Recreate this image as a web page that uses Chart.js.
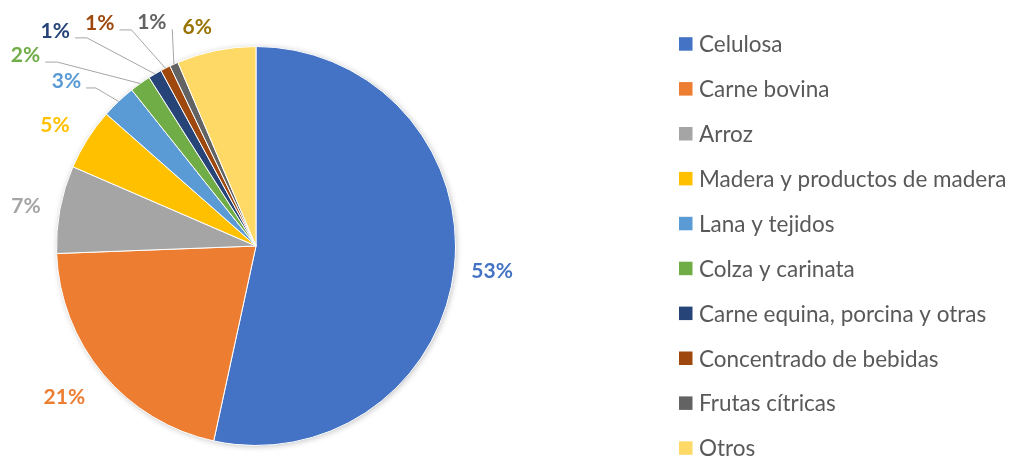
<!DOCTYPE html>
<html>
<head>
<meta charset="utf-8">
<script src="https://cdn.jsdelivr.net/npm/chart.js@4/dist/chart.umd.min.js"></script>
<style>
  html, body { margin: 0; padding: 0; background: #fff; }
  #wrap { width: 1013px; height: 457px; position: relative; }
</style>
</head>
<body>
<div id="wrap"><canvas id="c" width="1013" height="457"></canvas></div>
<script>
// ---- Data ----
const categories = [
  'Celulosa', 'Carne bovina', 'Arroz', 'Madera y productos de madera',
  'Lana y tejidos', 'Colza y carinata', 'Carne equina, porcina y otras',
  'Concentrado de bebidas', 'Frutas cítricas', 'Otros'
];
const values = [53.4, 21.0, 7.1, 5.0, 2.8, 1.7, 1.1, 0.8, 0.7, 6.4];

// ---- Styles ----
const sliceColors = ['#4472C4', '#ED7D31', '#A5A5A5', '#FFC000', '#5B9BD5',
                     '#70AD47', '#264478', '#9E480E', '#636363', '#FFD966'];
const labelColors = ['#4472C4', '#ED7D31', '#A5A5A5', '#FFC000', '#5B9BD5',
                     '#70AD47', '#264478', '#9E480E', '#636363', '#997300'];
// label placement: angle shift (deg) from slice mid-angle, distance as ratio of radius
const labelAngleShift = [0, 1.6, -0.8, -1.4, -5.4, -14.9, -12.6, -8, -0.7, -3.5];
const labelDistRatio  = [1.19, 1.225, 1.17, 1.175, 1.26, 1.5, 1.475, 1.365, 1.235, 1.135];
const leaderLine      = [false, false, false, false, true, true, true, true, true, false];

const LABEL_FONT = 'bold 21px Lato, "Open Sans", sans-serif';
const LEGEND_FONT = '22.5px Lato, "Open Sans", sans-serif';

const shadowPlugin = {
  id: 'pieShadow',
  beforeDatasetsDraw(chart) {
    const arc = chart.getDatasetMeta(0).data[0];
    if (!arc) return;
    const ctx = chart.ctx;
    ctx.save();
    ctx.shadowColor = 'rgba(0,0,0,0.28)';
    ctx.shadowBlur = 6;
    ctx.shadowOffsetX = 1;
    ctx.shadowOffsetY = 1;
    ctx.beginPath();
    ctx.arc(arc.x, arc.y, arc.outerRadius - 0.5, 0, Math.PI * 2);
    ctx.fillStyle = '#fff';
    ctx.fill();
    ctx.restore();
  }
};

const labelPlugin = {
  id: 'pieLabels',
  afterDatasetsDraw(chart) {
    const ctx = chart.ctx;
    const meta = chart.getDatasetMeta(0);
    const total = values.reduce((a, b) => a + b, 0);
    ctx.save();
    ctx.font = LABEL_FONT;
    ctx.textAlign = 'center';
    ctx.textBaseline = 'middle';
    meta.data.forEach((arc, i) => {
      const mid = (arc.startAngle + arc.endAngle) / 2;
      const a = mid + labelAngleShift[i] * Math.PI / 180;
      const d = arc.outerRadius * labelDistRatio[i];
      const lx = arc.x + Math.cos(a) * d;
      const ly = arc.y + Math.sin(a) * d;
      const txt = Math.round(values[i] / total * 100) + '%';
      if (leaderLine[i]) {
        const w = ctx.measureText(txt).width;
        const sx = lx + w / 2 + 5, sy = ly + 7;
        const ex = arc.x + Math.cos(mid) * arc.outerRadius;
        const ey = arc.y + Math.sin(mid) * arc.outerRadius;
        const h = Math.min(12, Math.max(0, (ex - sx) * 0.3));
        ctx.beginPath();
        ctx.moveTo(sx, sy);
        ctx.lineTo(sx + h, sy);
        ctx.lineTo(ex, ey);
        ctx.strokeStyle = '#A6A6A6';
        ctx.lineWidth = 1;
        ctx.stroke();
      }
      ctx.fillStyle = labelColors[i];
      ctx.fillText(txt, lx, ly);
    });
    ctx.restore();
  }
};

const legendPlugin = {
  id: 'sideLegend',
  afterDraw(chart) {
    const ctx = chart.ctx;
    const arc = chart.getDatasetMeta(0).data[0];
    const n = categories.length;
    const step = 44.9;
    const top = arc.y - step * (n - 1) / 2;
    const boxX = 679, box = 13.5, textX = 699;
    ctx.save();
    ctx.font = LEGEND_FONT;
    ctx.textBaseline = 'middle';
    ctx.textAlign = 'left';
    categories.forEach((name, i) => {
      const y = top + i * step;
      ctx.fillStyle = sliceColors[i];
      ctx.fillRect(boxX, y - box / 2, box, box);
      ctx.fillStyle = '#595959';
      ctx.fillText(name, textX, y + 1);
    });
    ctx.restore();
  }
};

new Chart(document.getElementById('c'), {
  type: 'pie',
  data: {
    labels: categories,
    datasets: [{
      data: values,
      backgroundColor: sliceColors,
      borderColor: '#ffffff',
      borderWidth: 1
    }]
  },
  options: {
    responsive: false,
    animation: false,
    layout: { padding: { left: 56, right: 557, top: 46, bottom: 11 } },
    plugins: {
      legend: { display: false },
      tooltip: { enabled: false }
    }
  },
  plugins: [shadowPlugin, labelPlugin, legendPlugin]
});
</script>
</body>
</html>
